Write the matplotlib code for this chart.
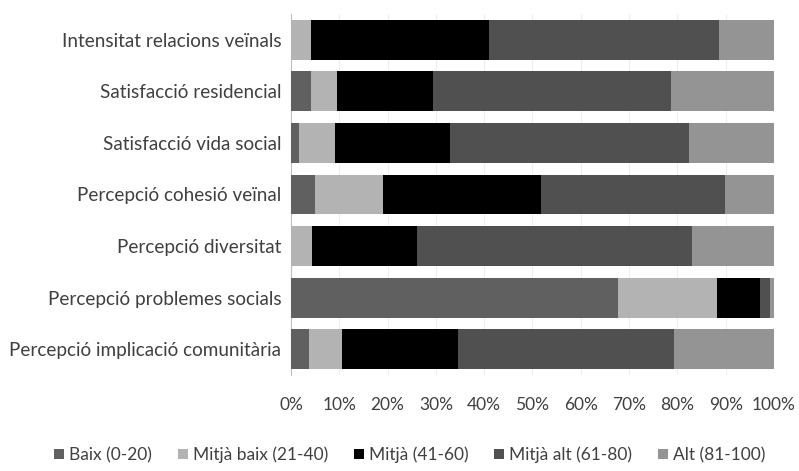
import numpy as np
import matplotlib.pyplot as plt
from matplotlib.ticker import PercentFormatter

categories = ['Intensitat relacions veïnals', 'Satisfacció residencial', 'Satisfacció vida social',
              'Percepció cohesió veïnal', 'Percepció diversitat', 'Percepció problemes socials',
              'Percepció implicació comunitària']
series = ['Baix (0-20)', 'Mitjà baix (21-40)', 'Mitjà (41-60)', 'Mitjà alt (61-80)', 'Alt (81-100)']

baix = [0.0, 4.2, 1.6, 5.0, 0.0, 67.6, 3.7]
mitja_baix = [4.2, 5.4, 7.5, 14.1, 4.4, 20.5, 6.8]
mitja = [36.8, 19.9, 23.8, 32.7, 21.6, 8.9, 24.1]
mitja_alt = [47.7, 49.2, 49.5, 38.0, 57.1, 2.2, 44.6]
alt = [11.3, 21.3, 17.6, 10.2, 16.9, 0.8, 20.8]

colors = ['#606060', '#b3b3b3', '#000000', '#505050', '#949494']

plt.rcParams['font.family'] = ['Lato', 'DejaVu Sans']

fig = plt.figure(figsize=(7.99, 4.71), dpi=100)
ax = fig.add_axes([0.3642, 0.2038, 0.6045, 0.7665])

y = np.arange(len(categories))
left = np.zeros(len(categories))
for name, vals, c in zip(series, [baix, mitja_baix, mitja, mitja_alt, alt], colors):
    ax.barh(y, vals, left=left, height=0.77, color=c, label=name, zorder=3)
    left += np.array(vals)

ax.set_xlim(0, 100)
ax.set_ylim(6.5, -0.5)
ax.set_yticks(y)
ax.set_yticklabels(categories, fontsize=13.6, color='#404040')
ax.set_xticks(np.arange(0, 101, 10))
ax.xaxis.set_major_formatter(PercentFormatter(decimals=0))
ax.tick_params(axis='x', labelsize=12.5, labelcolor='#404040', length=0, pad=16)
ax.tick_params(axis='y', length=0, pad=7)
ax.grid(axis='x', color='#eeeeee', linewidth=0.8, zorder=0)
for s in ['top', 'right', 'bottom']:
    ax.spines[s].set_visible(False)
ax.spines['left'].set_color('#bfbfbf')

fig.legend(loc='center', bbox_to_anchor=(0.513, 0.034), ncol=5, frameon=False,
           fontsize=12.5, handlelength=0.55, handleheight=0.55, handletextpad=0.3,
           columnspacing=1.5, labelcolor='#404040')

fig.savefig('out.png')
